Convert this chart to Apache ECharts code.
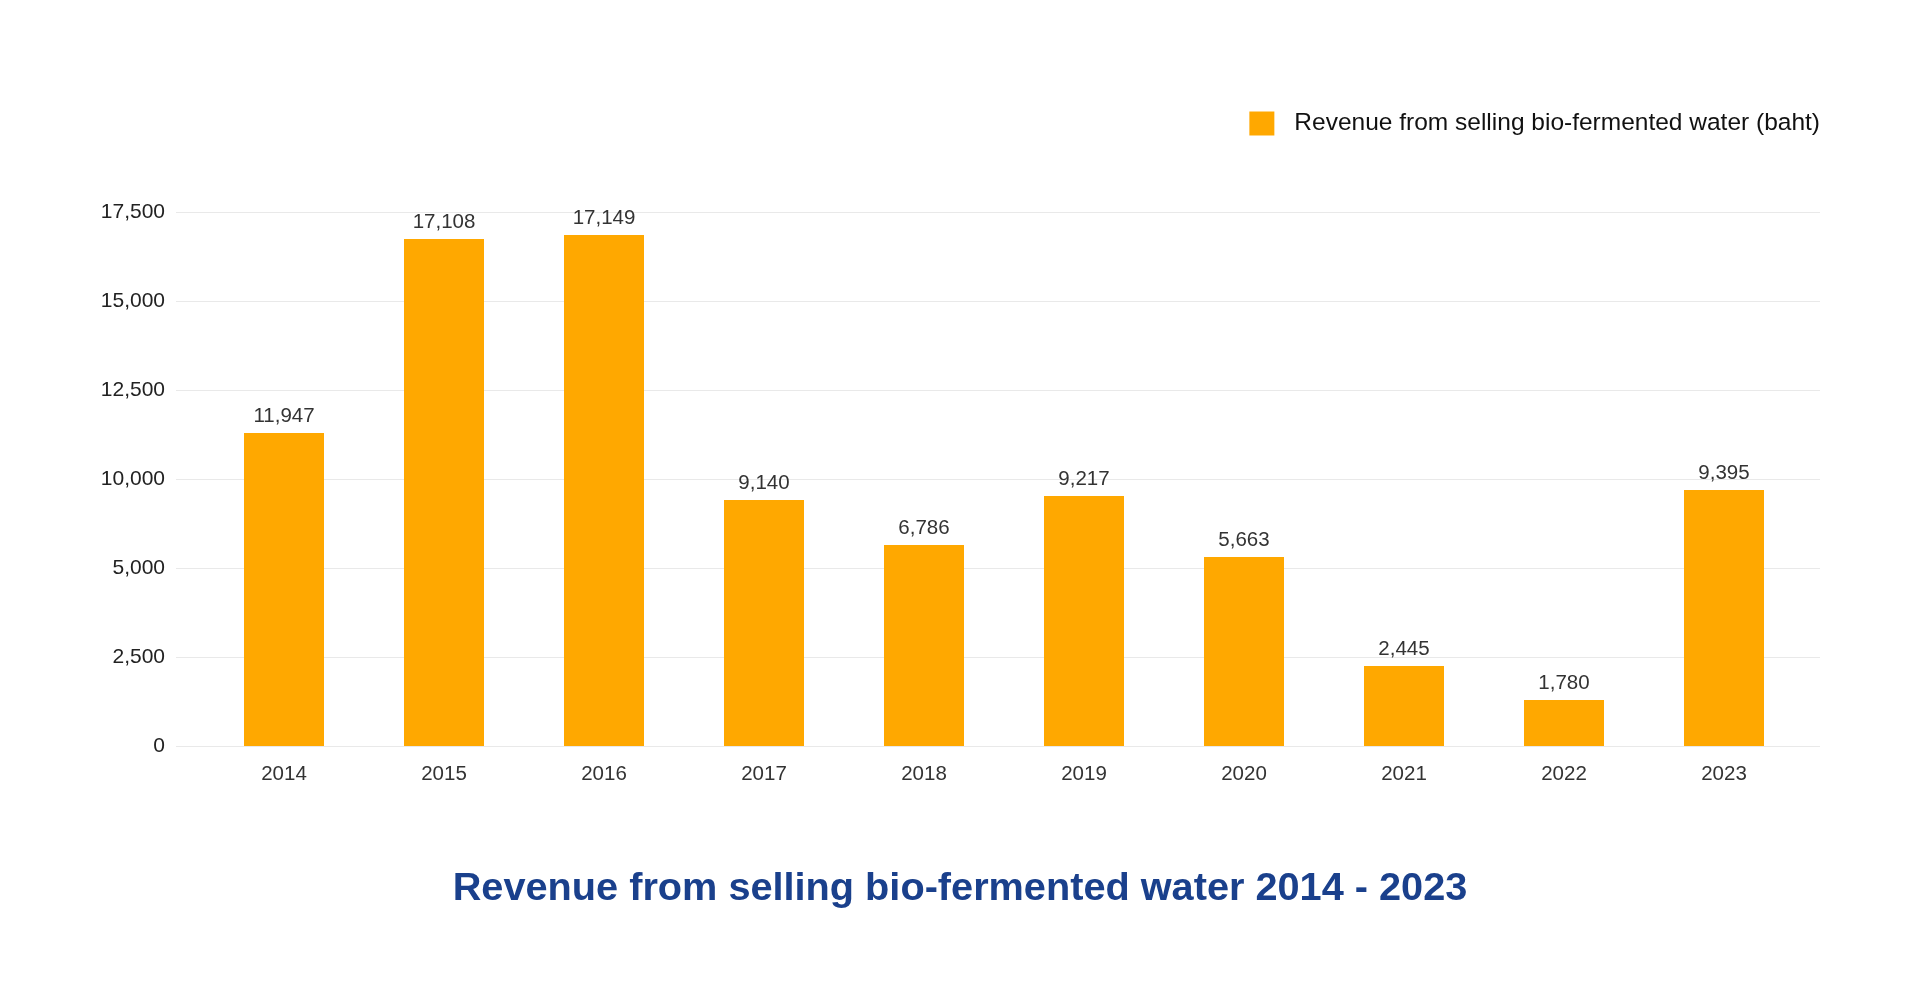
<!DOCTYPE html>
<html>
<head>
<meta charset="utf-8">
<script src="https://cdn.jsdelivr.net/npm/echarts@6/dist/echarts.min.js"></script>
<style>
html,body{margin:0;padding:0;background:#fff;}
#chart{width:1920px;height:1000px;}
</style>
</head>
<body>
<div id="chart"></div>
<script>
// Categories
var years = ['2014','2015','2016','2017','2018','2019','2020','2021','2022','2023'];
// Bar heights as drawn in the picture, read on the plotted (linear) scale
var plotValues = [8792, 14242, 14354, 6910, 5646, 7022, 5309, 2247, 1292, 7191];
// Values printed above the bars
var valueLabels = ['11,947','17,108','17,149','9,140','6,786','9,217','5,663','2,445','1,780','9,395'];
// Tick labels printed on the value axis (bottom to top)
var tickLabels = ['0','2,500','5,000','10,000','12,500','15,000','17,500'];
var seriesName = 'Revenue from selling bio-fermented water (baht)';
var titleText = 'Revenue from selling bio-fermented water 2014 - 2023';

var FONT = '"Liberation Sans", Arial, Helvetica, sans-serif';
var TICK_STEP = 2500;

var chart = echarts.init(document.getElementById('chart'), null, {renderer: 'canvas'});
chart.setOption({
  backgroundColor: '#ffffff',
  textStyle: {fontFamily: FONT},
  animation: false,
  title: {
    text: titleText,
    left: 'center',
    top: 864,
    textStyle: {fontFamily: FONT, fontSize: 39.7, fontWeight: 'bold', color: '#1a408c'}
  },
  legend: {
    right: 95,
    top: 106,
    itemWidth: 25,
    itemHeight: 24,
    itemGap: 10,
    icon: 'rect',
    textStyle: {fontFamily: FONT, fontSize: 24.5, color: '#111', padding: [0, 0, 0, 15]},
    data: [seriesName]
  },
  grid: [
    {left: 176, right: 100, top: 212, bottom: 254},
    {left: 204, right: 116, top: 212, bottom: 254}
  ],
  xAxis: [
    {type: 'category', gridIndex: 0, data: years, show: false},
    {
      type: 'category', gridIndex: 1, data: years,
      axisLine: {show: false}, axisTick: {show: false},
      axisLabel: {margin: 18, fontSize: 20.5, color: '#333', fontFamily: FONT}
    }
  ],
  yAxis: [
    {
      type: 'value', gridIndex: 0, min: 0, max: TICK_STEP * (tickLabels.length - 1), interval: TICK_STEP,
      axisLine: {show: false}, axisTick: {show: false},
      splitLine: {show: true, lineStyle: {color: '#e9e9e9', width: 1}},
      axisLabel: {
        margin: 11, fontSize: 21, color: '#222', fontFamily: FONT,
        formatter: function (v) { return tickLabels[Math.round(v / TICK_STEP)]; }
      }
    },
    {
      type: 'value', gridIndex: 1, min: 0, max: TICK_STEP * (tickLabels.length - 1), interval: TICK_STEP,
      show: false, splitLine: {show: false}
    }
  ],
  series: [{
    name: seriesName,
    type: 'bar',
    xAxisIndex: 1,
    yAxisIndex: 1,
    barWidth: 80,
    itemStyle: {color: '#FFA800'},
    label: {
      show: true, position: 'top', distance: 6,
      fontSize: 20.5, color: '#333', fontFamily: FONT,
      formatter: function (p) { return valueLabels[p.dataIndex]; }
    },
    data: plotValues
  }]
});
</script>
</body>
</html>
